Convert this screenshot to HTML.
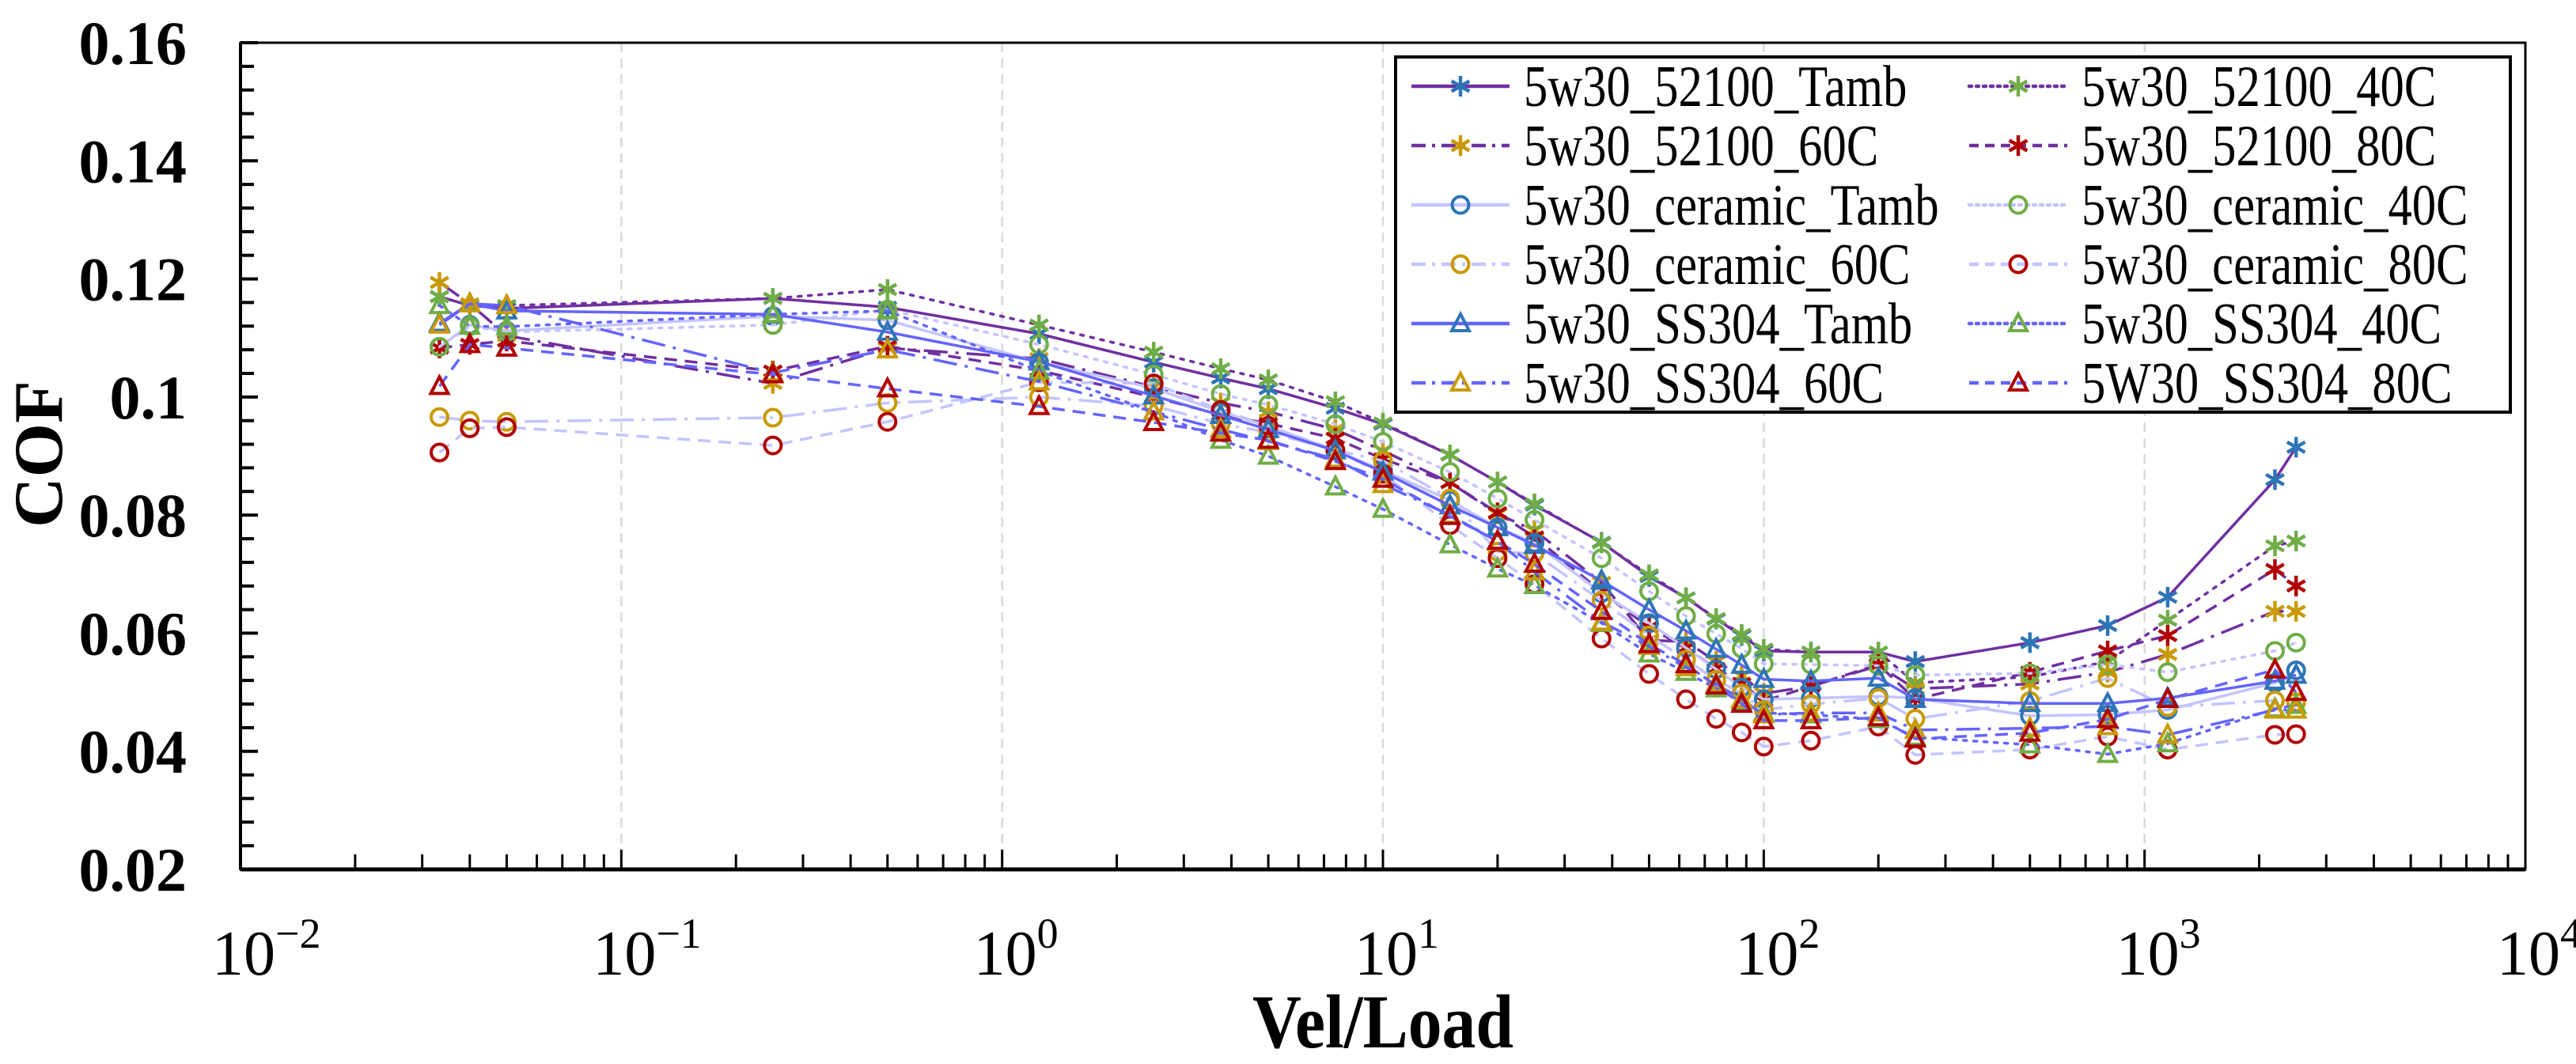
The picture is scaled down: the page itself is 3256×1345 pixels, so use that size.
<!DOCTYPE html>
<html><head><meta charset="utf-8"><title>COF vs Vel/Load</title>
<style>html,body{margin:0;padding:0;background:#fff}svg{display:block}</style></head>
<body>
<svg id="chart" xmlns="http://www.w3.org/2000/svg" width="3256" height="1345" viewBox="0 0 3256 1345">
<rect x="0" y="0" width="3256" height="1345" fill="#fff"/>
<g id="grid"></g><g id="series"></g><g id="axes"></g><g id="legend"></g>
</svg>
<script>
const xVals = [0.0333,0.04,0.05,0.25,0.5,1.25,2.5,3.75,5,7.5,10,15,20,25,37.5,50,62.5,75,87.5,100,133,200,250,500,800,1150,2200,2500];
const yTicks = [0.02,0.04,0.06,0.08,0.1,0.12,0.14,0.16];
const yTickLabels = ["0.02","0.04","0.06","0.08","0.1","0.12","0.14","0.16"];
const xDecades = [-2,-1,0,1,2,3,4];
const xDecadeLabels = ["\u22122","\u22121","0","1","2","3","4"];
const seriesNames = ["5w30_52100_Tamb","5w30_52100_40C","5w30_52100_60C","5w30_52100_80C","5w30_ceramic_Tamb","5w30_ceramic_40C","5w30_ceramic_60C","5w30_ceramic_80C","5w30_SS304_Tamb","5w30_SS304_40C","5w30_SS304_60C","5W30_SS304_80C"];
const s52100Tamb = [0.117,0.1155,0.115,0.1167,0.1152,0.1107,0.1059,0.1032,0.1014,0.0981,0.0954,0.0902,0.0856,0.0817,0.0754,0.0696,0.066,0.0624,0.0596,0.057,0.0568,0.0568,0.0552,0.0584,0.0613,0.0661,0.086,0.0915];
const s52100_40C = [0.117,0.1155,0.1155,0.1167,0.1182,0.1122,0.1076,0.1048,0.1029,0.0992,0.0956,0.0902,0.0856,0.0819,0.0753,0.0699,0.066,0.0625,0.0598,0.0573,0.0568,0.0568,0.0516,0.0526,0.0552,0.0622,0.0748,0.0756];
const s52100_60C = [0.1194,0.1158,0.1104,0.1023,0.1083,0.1065,0.1017,0.099,0.0975,0.0945,0.0909,0.0855,0.0802,0.0774,0.0686,0.0588,0.0586,0.0552,0.0528,0.0498,0.051,0.0545,0.0506,0.0514,0.0534,0.0564,0.0637,0.0637];
const s52100_80C = [0.1083,0.1089,0.1095,0.1044,0.1086,0.1045,0.1,0.097,0.0955,0.093,0.0895,0.0855,0.0804,0.0763,0.067,0.061,0.0575,0.054,0.0515,0.0485,0.051,0.0547,0.0488,0.0534,0.057,0.0596,0.0708,0.068];
const sCerTamb = [0.1085,0.1122,0.1112,0.1137,0.113,0.1059,0.1015,0.0975,0.0951,0.0909,0.0876,0.0825,0.0779,0.0753,0.0668,0.0617,0.0575,0.0539,0.0508,0.0488,0.049,0.0493,0.049,0.046,0.0462,0.047,0.0516,0.0537];
const sCer40C = [0.1085,0.112,0.111,0.1122,0.1148,0.1089,0.1038,0.1005,0.0987,0.0954,0.0924,0.0873,0.0828,0.0792,0.0727,0.0671,0.0629,0.0599,0.0574,0.0548,0.0547,0.0545,0.0529,0.0532,0.0547,0.0534,0.057,0.0584];
const sCer60C = [0.0966,0.096,0.0958,0.0965,0.099,0.1,0.0985,0.0955,0.094,0.091,0.0892,0.0828,0.0738,0.0735,0.0655,0.0596,0.0555,0.0521,0.0498,0.047,0.048,0.049,0.0455,0.0485,0.0524,0.0475,0.0486,0.0483];
const sCer80C = [0.0906,0.0947,0.0949,0.0918,0.0958,0.1025,0.1023,0.0978,0.0951,0.091,0.087,0.0783,0.0727,0.0683,0.0591,0.0531,0.0488,0.0455,0.0432,0.0408,0.0418,0.0442,0.0394,0.0403,0.0425,0.0403,0.0428,0.0429];
const sSSTamb = [0.1125,0.1158,0.1146,0.114,0.111,0.106,0.1002,0.0969,0.0945,0.0909,0.0873,0.0816,0.0779,0.0749,0.0689,0.064,0.0604,0.0573,0.0546,0.0522,0.0519,0.0524,0.0488,0.0481,0.0481,0.049,0.0519,0.0529];
const sSS40C = [0.1155,0.112,0.1119,0.114,0.1146,0.1044,0.0975,0.0927,0.09,0.0848,0.081,0.075,0.0709,0.0681,0.0617,0.0565,0.0534,0.0506,0.0485,0.0465,0.0462,0.0454,0.0424,0.0411,0.0395,0.0413,0.0472,0.0478];
const sSS60C = [0.1122,0.1158,0.1155,0.1041,0.108,0.1026,0.0975,0.0945,0.0925,0.0895,0.0852,0.08,0.0755,0.0704,0.0619,0.0578,0.0542,0.0514,0.0488,0.0462,0.0465,0.0465,0.0436,0.0439,0.0442,0.0428,0.047,0.047];
const sSS80C = [0.1018,0.1089,0.1083,0.1038,0.1014,0.0984,0.0957,0.0939,0.0927,0.0891,0.0861,0.0798,0.0756,0.0717,0.0637,0.0581,0.0547,0.0511,0.048,0.0452,0.0452,0.0457,0.0421,0.0431,0.0454,0.0488,0.0538,0.05];
const seriesValues = [s52100Tamb,s52100_40C,s52100_60C,s52100_80C,sCerTamb,sCer40C,sCer60C,sCer80C,sSSTamb,sSS40C,sSS60C,sSS80C];

const NS = "http://www.w3.org/2000/svg";
const L = 304, R = 3192, T = 54, B = 1099;
const xMinLog = -2, xMaxLog = 4;
const yMin = 0.02, yMax = 0.16;
function xScale(v){ return L + (Math.log10(v) - xMinLog) / (xMaxLog - xMinLog) * (R - L); }
function yScale(v){ return B - (v - yMin) / (yMax - yMin) * (B - T); }
function mk(tag, attrs, parent){ const e = document.createElementNS(NS, tag); for (const k in attrs) e.setAttribute(k, attrs[k]); parent.appendChild(e); return e; }

const PURPLE = "#7030a0", LAV = "#c4c4ff", BLUE = "#6464ff";
const MBLUE = "#2e75b6", MGREEN = "#70ad47", MGOLD = "#c99a06", MRED = "#b00000";
const DASHDOT = "30 10 4 10", DASH = "16 10", DOT = "4 9";
const styles = [
  {c:PURPLE,d:null,m:"star",mc:MBLUE},{c:PURPLE,d:DOT,m:"star",mc:MGREEN},
  {c:PURPLE,d:DASHDOT,m:"star",mc:MGOLD},{c:PURPLE,d:DASH,m:"star",mc:MRED},
  {c:LAV,d:null,m:"circle",mc:MBLUE},{c:LAV,d:DOT,m:"circle",mc:MGREEN},
  {c:LAV,d:DASHDOT,m:"circle",mc:MGOLD},{c:LAV,d:DASH,m:"circle",mc:MRED},
  {c:BLUE,d:null,m:"tri",mc:MBLUE},{c:BLUE,d:DOT,m:"tri",mc:MGREEN},
  {c:BLUE,d:DASHDOT,m:"tri",mc:MGOLD},{c:BLUE,d:DASH,m:"tri",mc:MRED}
];

function marker(type, cx, cy, col, parent){
  let e;
  if (type === "star"){
    const r = 13;
    e = mk("path", {d:`M${cx},${cy-r}V${cy+r}M${cx-r*0.87},${cy-r*0.5}L${cx+r*0.87},${cy+r*0.5}M${cx-r*0.87},${cy+r*0.5}L${cx+r*0.87},${cy-r*0.5}`, stroke:col, "stroke-width":4.5, fill:"none"}, parent);
  } else if (type === "circle"){
    e = mk("circle", {cx:cx, cy:cy, r:10.5, stroke:col, "stroke-width":4, fill:"none"}, parent);
  } else {
    const h = 12;
    e = mk("path", {d:`M${cx},${cy-h}L${cx+11},${cy+h*0.75}L${cx-11},${cy+h*0.75}Z`, stroke:col, "stroke-width":4, fill:"none", "stroke-linejoin":"miter"}, parent);
  }
  return e;
}

// grid
const grid = document.getElementById("grid");
for (let i = 1; i < xDecades.length - 1; i++){
  const x = xScale(Math.pow(10, xDecades[i]));
  const g = mk("line", {x1:x, x2:x, y1:T, y2:B, stroke:"#d9d9d9", "stroke-width":2.5, "stroke-dasharray":"12 8"}, grid);
  
  
}

// series
const sg = document.getElementById("series");
seriesValues.forEach((vals, si) => {
  const st = styles[si];
  const grp = mk("g", {}, sg);
  
  
  let d = "";
  vals.forEach((v, i) => { if (v == null) return; d += (d ? "L" : "M") + xScale(xVals[i]).toFixed(1) + "," + yScale(v).toFixed(1); });
  const ln = mk("path", {d:d, stroke:st.c, "stroke-width":3.5, fill:"none", "stroke-linecap":st.d===DOT?"round":"butt", "stroke-linejoin":"round"}, grp);
  if (st.d) ln.setAttribute("stroke-dasharray", st.d);
  
  
  vals.forEach((v, i) => {
    if (v == null) return;
    const m = marker(st.m, xScale(xVals[i]), yScale(v), st.mc, grp);
    
    
  });
});

// axes
const ax = document.getElementById("axes");
const frame = mk("rect", {x:L, y:T, width:R-L, height:B-T, fill:"none", stroke:"#000", "stroke-width":3}, ax);


const xAxisLine = mk("line", {x1:L, x2:R, y1:B, y2:B, stroke:"#000", "stroke-width":5}, ax);


const yAxisLine = mk("line", {x1:L, x2:L, y1:T, y2:B, stroke:"#000", "stroke-width":4}, ax);



for (let v = yMin; v <= yMax + 1e-9; v += 0.004){
  const y = yScale(v);
  const major = Math.abs(Math.round(v / 0.02) * 0.02 - v) < 1e-6;
  const t = mk("line", {x1:L, x2:L + (major ? 22 : 17), y1:y, y2:y, stroke:"#000", "stroke-width":4}, ax);
  
  
}
yTicks.forEach((v, i) => {
  const t = mk("text", {x:236, y:yScale(v) + 27, "text-anchor":"end", "font-family":"'Liberation Serif', serif", "font-weight":"bold", "font-size":78}, ax);
  t.textContent = yTickLabels[i];
  
  
});
for (let dI = 0; dI < xDecades.length; dI++){
  const base = Math.pow(10, xDecades[dI]);
  const x = xScale(base);
  const t = mk("line", {x1:x, x2:x, y1:B, y2:B - 25, stroke:"#000", "stroke-width":3}, ax);
  
  
  if (dI < xDecades.length - 1){
    for (let k = 2; k <= 9; k++){
      const xm = xScale(base * k);
      const tm = mk("line", {x1:xm, x2:xm, y1:B, y2:B - 19, stroke:"#000", "stroke-width":3}, ax);
      
      
    }
  }
  const lab = mk("text", {x:x - 36, y:1232, "font-family":"'Liberation Serif', serif", "font-size":80}, ax);
  
  
  const t1 = mk("tspan", {}, lab); t1.textContent = "10";
  const t2 = mk("tspan", {"font-size":54, dy:-34}, lab); t2.textContent = xDecadeLabels[dI];
}
const xt = mk("text", {x:1748, y:1324, "text-anchor":"middle", "font-family":"'Liberation Serif', serif", "font-weight":"bold", "font-size":96, textLength:330, lengthAdjust:"spacingAndGlyphs"}, ax);
xt.textContent = "Vel/Load";


const yt = mk("text", {x:0, y:0, transform:"translate(78,574) rotate(-90)", "text-anchor":"middle", "font-family":"'Liberation Serif', serif", "font-weight":"bold", "font-size":88}, ax);
yt.textContent = "COF";



// legend
const lg = document.getElementById("legend");
const lbox = mk("rect", {x:1764, y:72, width:1409, height:449, fill:"#fff", stroke:"#000", "stroke-width":4}, lg);


seriesNames.forEach((nm, i) => {
  const col = i % 2, row = Math.floor(i / 2);
  const st = styles[i];
  const cy = 109 + row * 75;
  const x0 = col === 0 ? 1784 : 2489;
  const eg = mk("g", {}, lg);
  
  
  const ln = mk("line", {x1:x0, x2:x0 + 124, y1:cy, y2:cy, stroke:st.c, "stroke-width":4.5, "stroke-linecap":st.d===DOT?"round":"butt"}, eg);
  if (st.d) ln.setAttribute("stroke-dasharray", st.d === DASHDOT ? "18 8 4 8" : st.d === DASH ? "12 8" : "3 6");
  marker(st.m, x0 + 62, cy, st.mc, eg);
  const tx = mk("text", {x:0, y:0, transform:`translate(${x0 + 142},${cy + 25}) scale(0.82,1)`, "font-family":"'Liberation Serif', serif", "font-size":74}, eg);
  tx.textContent = nm;
});
</script>
</body></html>
